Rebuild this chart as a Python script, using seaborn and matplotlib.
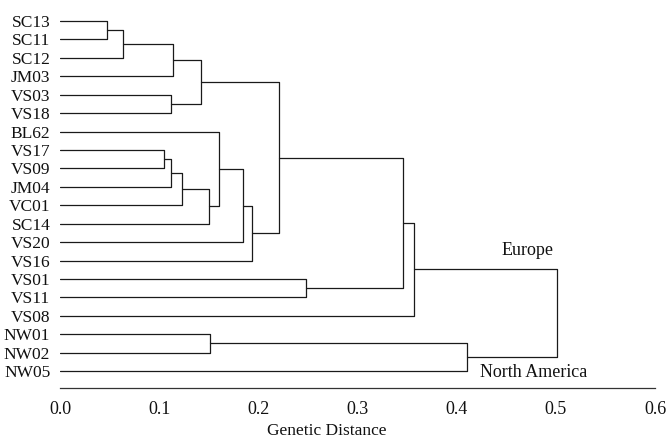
import matplotlib
matplotlib.use("Agg")
import matplotlib.pyplot as plt
import seaborn as sns
import pandas as pd

# ---- data ----
leaves = ["SC13", "SC11", "SC12", "JM03", "VS03", "VS18", "BL62", "VS17", "VS09",
          "JM04", "VC01", "SC14", "VS20", "VS16", "VS01", "VS11", "VS08",
          "NW01", "NW02", "NW05"]
# linkage: cluster n+k joins merge_a[k] and merge_b[k] at merge_height[k]
merge_a = [0, 20, 21, 4, 22, 7, 25, 26, 27, 6, 29, 30, 24, 14, 32, 34, 17, 36, 35]
merge_b = [1, 2, 3, 5, 23, 8, 9, 10, 11, 28, 12, 13, 31, 15, 33, 16, 18, 19, 37]
merge_height = [0.047, 0.064, 0.114, 0.112, 0.142, 0.105, 0.112, 0.123, 0.150,
                0.160, 0.185, 0.194, 0.221, 0.248, 0.346, 0.357, 0.151, 0.410, 0.501]
group_labels = ["Europe", "North America"]
xticks = [0.0, 0.1, 0.2, 0.3, 0.4, 0.5, 0.6]

# ---- build segments ----
n = len(leaves)
pos = {i: float(i) for i in range(n)}
hgt = {i: 0.0 for i in range(n)}
rows = []
seg = 0
for k, (a, b, h) in enumerate(zip(merge_a, merge_b, merge_height)):
    pts = [(hgt[a], pos[a]), (h, pos[a]), (h, pos[b]), (hgt[b], pos[b])]
    for j, (x, y) in enumerate(pts):
        rows.append({"seg": seg, "order": j, "x": x, "y": y})
    seg += 1
    pos[n + k] = (pos[a] + pos[b]) / 2
    hgt[n + k] = h
df = pd.DataFrame(rows)

sns.set_theme(style="white")
plt.rcParams["font.family"] = ["Liberation Serif", "DejaVu Serif"]

fig = plt.figure(figsize=(6.68, 4.4), dpi=100)
ax = fig.add_axes([60 / 668, 1 - 388 / 440, 595 / 668, (388 - 11.8) / 440])

sns.lineplot(data=df, x="x", y="y", units="seg", estimator=None, sort=False,
             color="#1a1a1a", linewidth=0.9, ax=ax, legend=False)

ax.set_xlim(0, 0.6)
ax.set_ylim(19.92, -0.5)
ax.set_yticks(range(n))
ax.set_yticklabels(leaves, fontsize=12.5, color="#111111")
ax.set_xticks(xticks)
ax.set_xticklabels([f"{t:.1f}" for t in xticks], fontsize=13, color="#111111")
ax.tick_params(axis="y", length=0, pad=7)
ax.tick_params(axis="x", direction="in", length=2, width=0.8, pad=9, color="#333333")
for s in ["top", "right", "left"]:
    ax.spines[s].set_visible(False)
ax.spines["bottom"].set_color("#333333")
ax.spines["bottom"].set_linewidth(0.9)

ax.set_xlabel("Genetic Distance", fontsize=12.5, color="#111111")
ax.xaxis.set_label_coords(0.449, -0.092)
ax.set_ylabel("")

ax.text(0.445, 12.43, group_labels[0], fontsize=13, va="center", ha="left", color="#111111")
ax.text(0.424, 19.1, group_labels[1], fontsize=13, va="center", ha="left", color="#111111")

fig.savefig("out.png", dpi=100)
